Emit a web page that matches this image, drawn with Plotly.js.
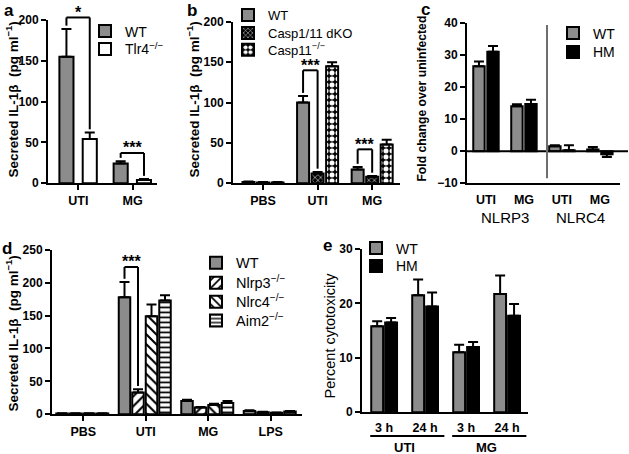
<!DOCTYPE html>
<html><head><meta charset="utf-8">
<script src="https://cdn.plot.ly/plotly-3.0.1.min.js"></script>
<style>html,body{margin:0;padding:0;background:#fff}#chart{width:629px;height:454px}</style>
</head><body><div id="chart"></div>
<script>
// ---------- DATA ----------
// Panel a
const aCats = ['UTI', 'MG'];
const aWT = [155, 24];
const aWTerr = [34, 3];
const aTlr4 = [54, 4];
const aTlr4err = [8, 1];

// Panel b
const bCats = ['PBS', 'UTI', 'MG'];
const bWT = [1.5, 100, 17];
const bWTerr = [0.5, 8, 3];
const bDKO = [1, 12, 8];
const bDKOerr = [0.5, 2, 1];
const bC11 = [1, 145, 48];
const bC11err = [0.5, 5, 6];

// Panel c
const cLabels = ['UTI', 'MG', 'UTI', 'MG'];
const cGroups = ['NLRP3', 'NLRC4'];
const cWT = [26.5, 14, 1.5, 0.5];
const cWTerr = [1.5, 0.6, 0.3, 0.8];
const cHM = [31, 14.7, 0.3, -1];
const cHMerr = [1.8, 1.3, 1.5, 0.8];

// Panel d
const dCats = ['PBS', 'UTI', 'MG', 'LPS'];
const dWT = [1, 178, 20, 5];
const dWTerr = [0.5, 23, 2, 1];
const dNlrp3 = [1, 33, 10, 3];
const dNlrp3err = [0.5, 5, 1, 0.5];
const dNlrc4 = [1, 149, 14, 2];
const dNlrc4err = [0.5, 18, 2, 0.5];
const dAim2 = [1, 173, 17, 4];
const dAim2err = [0.5, 8, 3, 1];

// Panel e
const eLabels = ['3 h', '24 h', '3 h', '24 h'];
const eGroups = ['UTI', 'MG'];
const eWT = [15.8, 21.5, 11, 21.7];
const eWTerr = [0.9, 2.9, 1.4, 3.4];
const eHM = [16.5, 19.4, 12, 17.7];
const eHMerr = [0.8, 2.6, 0.9, 2.2];

// ---------- STYLE / LAYOUT ----------
const F = 'Liberation Sans, Arial, Helvetica, sans-serif';
const GREY = '#8c8c8c';
const W = 629, H = 454;
const px = v => v / W;
const py = v => 1 - v / H;

const traces = [], shapes = [], annotations = [];
const legends = {};
let legendCount = 0;

function makeLegend(xPx, topPx, size) {
  legendCount += 1;
  const id = legendCount === 1 ? 'legend' : 'legend' + legendCount;
  legends[id] = {x: px(xPx), y: py(topPx), xanchor: 'left', yanchor: 'top', bgcolor: 'rgba(0,0,0,0)',
    borderwidth: 0, font: {family: F, size, color: 'black'}, tracegroupgap: 0, traceorder: 'normal',
    itemclick: false, itemdoubleclick: false};
  return id;
}

// leg: {x: legend left px, centers: [item center px...], size, k: center-top offset}
function addBars(xa, ya, leg, series) {
  series.forEach((s, j) => {
    const up = s.y.map((v, i) => v >= 0 ? s.err[i] : 0);
    const dn = s.y.map((v, i) => v < 0 ? s.err[i] : 0);
    const marker = {color: s.color, line: {color: 'black', width: 2}};
    if (s.pattern) marker.pattern = s.pattern;
    const lid = makeLegend(leg.x, leg.centers[j] - leg.k, leg.size);
    traces.push({
      type: 'bar', x: s.y.map((_, i) => i), y: s.y, name: s.name,
      xaxis: xa, yaxis: ya, legend: lid,
      offset: s.offset, width: s.width, marker,
      error_y: {type: 'data', symmetric: false, array: up, arrayminus: dn,
                color: 'black', thickness: 2, width: 5},
      hoverinfo: 'skip'
    });
  });
}

function barCenter(s, i) { return i + s.offset + s.width / 2; }

function bracket(xa, ya, series, cat, from, to, top, label, range) {
  const fr = v => v / range;               // fraction of the y axis (range starts at 0)
  const gap = 0.02 * range;
  const s0 = series[from], s1 = series[to];
  const x0 = barCenter(s0, cat), x1 = barCenter(s1, cat);
  const y0 = s0.y[cat] + s0.err[cat] + gap, y1 = s1.y[cat] + s1.err[cat] + gap;
  const ln = {color: 'black', width: 2};
  const yr = ya + ' domain';
  shapes.push({type: 'line', xref: xa, yref: yr, x0: x0, x1: x0, y0: fr(y0), y1: fr(top), line: ln});
  shapes.push({type: 'line', xref: xa, yref: yr, x0: x0, x1: x1, y0: fr(top), y1: fr(top), line: ln});
  shapes.push({type: 'line', xref: xa, yref: yr, x0: x1, x1: x1, y0: fr(top), y1: fr(y1), line: ln});
  annotations.push({xref: xa, yref: yr, x: (x0 + x1) / 2, y: fr(top), text: label, showarrow: false,
    xanchor: 'center', yanchor: 'middle', yshift: 5,
    font: {family: F, size: 16, weight: 'bold', color: 'black'}});
}

// Panel a
const aSeries = [
  {name: 'WT', y: aWT, err: aWTerr, color: GREY, offset: -0.35, width: 0.26},
  {name: 'Tlr4<sup>−/−</sup>', y: aTlr4, err: aTlr4err, color: 'white', offset: 0.08, width: 0.26}
];
addBars('x', 'y', {x: 85, centers: [30, 48], size: 14, k: 16.5}, aSeries);
bracket('x', 'y', aSeries, 0, 0, 1, 203, '*', 200);
bracket('x', 'y', aSeries, 1, 0, 1, 37, '***', 200);

// Panel b
const bSeries = [
  {name: 'WT', y: bWT, err: bWTerr, color: GREY, offset: -0.376, width: 0.22},
  {name: 'Casp1/11 dKO', y: bDKO, err: bDKOerr, color: 'black', offset: -0.11, width: 0.22,
   pattern: {shape: 'x', fgcolor: 'white', bgcolor: 'black', size: 4, solidity: 0.25}},
  {name: 'Casp11<sup>−/−</sup>', y: bC11, err: bC11err, color: 'black', offset: 0.156, width: 0.22,
   pattern: {shape: '.', fgcolor: 'white', bgcolor: 'black', size: 6, solidity: 0.55}}
];
addBars('x2', 'y2', {x: 228, centers: [12, 30, 47], size: 13, k: 14}, bSeries);
bracket('x2', 'y2', bSeries, 1, 0, 1, 140, '***', 200);
bracket('x2', 'y2', bSeries, 2, 0, 1, 42, '***', 200);

// Panel c
const cSeries = [
  {name: 'WT', y: cWT, err: cWTerr, color: GREY, offset: -0.335, width: 0.3},
  {name: 'HM', y: cHM, err: cHMerr, color: 'black', offset: 0.035, width: 0.3}
];
addBars('x3', 'y3', {x: 553, centers: [32, 51], size: 14, k: 16.5}, cSeries);
shapes.push({type: 'line', xref: 'paper', yref: 'y3', x0: px(467), x1: px(628), y0: 0, y1: 0,
  line: {color: 'black', width: 2}});
shapes.push({type: 'line', xref: 'paper', yref: 'paper', x0: px(547), x1: px(547), y0: py(177), y1: py(23),
  line: {color: '#6e6e6e', width: 2}});
cGroups.forEach((g, k) => annotations.push({xref: 'x3', yref: 'paper', x: 2 * k + 0.5, y: py(216),
  xanchor: 'center', yanchor: 'middle',
  text: g, showarrow: false, font: {family: F, size: 15, color: 'black'}}));

// Panel d
const dSeries = [
  {name: 'WT', y: dWT, err: dWTerr, color: GREY, offset: -0.432, width: 0.184},
  {name: 'Nlrp3<sup>−/−</sup>', y: dNlrp3, err: dNlrp3err, color: 'white', offset: -0.216, width: 0.184,
   pattern: {shape: '/', fgcolor: 'black', bgcolor: 'white', size: 7, solidity: 0.3}},
  {name: 'Nlrc4<sup>−/−</sup>', y: dNlrc4, err: dNlrc4err, color: 'white', offset: 0.0, width: 0.184,
   pattern: {shape: '\\', fgcolor: 'black', bgcolor: 'white', size: 7, solidity: 0.3}},
  {name: 'Aim2<sup>−/−</sup>', y: dAim2, err: dAim2err, color: 'white', offset: 0.216, width: 0.184,
   pattern: {shape: '-', fgcolor: 'black', bgcolor: 'white', size: 5, solidity: 0.35}}
];
addBars('x4', 'y4', {x: 196, centers: [262, 282, 301, 320], size: 14.5, k: 16}, dSeries);
bracket('x4', 'y4', dSeries, 1, 0, 1, 224, '***', 250);

// Panel e
const eSeries = [
  {name: 'WT', y: eWT, err: eWTerr, color: GREY, offset: -0.315, width: 0.29},
  {name: 'HM', y: eHM, err: eHMerr, color: 'black', offset: 0.025, width: 0.29}
];
addBars('x5', 'y5', {x: 356, centers: [248, 266], size: 14, k: 16.5}, eSeries);
eGroups.forEach((g, k) => {
  const a0 = 2 * k - 0.34, a1 = 2 * k + 1 + 0.47;
  shapes.push({type: 'line', xref: 'x5', yref: 'paper', x0: a0, x1: a1, y0: py(436), y1: py(436),
    line: {color: 'black', width: 2}});
  annotations.push({xref: 'x5', yref: 'paper', x: 2 * k + 0.5, y: py(447), text: g, showarrow: false,
    xanchor: 'center', yanchor: 'middle',
    font: {family: F, size: 13, weight: 'bold', color: 'black'}});
});

// Axis titles
function ytitle(xPx, yPx, text, size, weight) {
  annotations.push({xref: 'paper', yref: 'paper', x: px(xPx), y: py(yPx), text, textangle: -90,
    xanchor: 'center', yanchor: 'middle',
    showarrow: false, font: {family: F, size, weight, color: 'black'}});
}
const il1b = 'Secreted IL-1β  (pg ml<sup>−1</sup>)';
ytitle(12, 98, il1b, 13.5, 'bold');
ytitle(193, 98, il1b, 13.5, 'bold');
ytitle(422, 97, 'Fold change over uninfected', 12.2, 'bold');
ytitle(12, 333, il1b, 13.5, 'bold');
ytitle(330, 335, 'Percent cytotoxicity', 14.5, 'normal');

// Panel letters
[['a', 9, 9], ['b', 192, 9], ['c', 425, 8], ['d', 7, 248], ['e', 327, 245]].forEach(([t, x, y]) =>
  annotations.push({xref: 'paper', yref: 'paper', x: px(x), y: py(y), text: t, showarrow: false,
    xanchor: 'center', yanchor: 'middle',
    font: {family: F, size: 17, weight: 'bold', color: 'black'}}));

const axBase = {showline: true, linecolor: 'black', linewidth: 2, ticks: 'outside', ticklen: 5,
  tickwidth: 2, tickcolor: 'black', showgrid: false, zeroline: false, fixedrange: true,
  tickfont: {family: F, size: 12, weight: 'bold', color: 'black'}};
function xAx(d0, d1, range, anchor, labels, standoff) {
  const ax = Object.assign({}, axBase, {domain: [px(d0), px(d1)], range, anchor,
    tickmode: 'array', tickvals: labels.map((_, i) => i), ticktext: labels,
    tickfont: {family: F, size: 12.5, weight: 'bold', color: 'black'}});
  if (standoff !== undefined) { ax.ticks = ''; ax.ticklabelstandoff = standoff; }
  return ax;
}
function yAx(top, bot, range, dtick, anchor) {
  return Object.assign({}, axBase, {domain: [py(bot), py(top)], range, dtick, anchor, tick0: 0});
}

const layout = Object.assign({
  width: W, height: H, margin: {l: 0, r: 0, t: 0, b: 0},
  paper_bgcolor: 'white', plot_bgcolor: 'white', showlegend: true, barmode: 'group',
  font: {family: F, color: 'black'},
  xaxis: xAx(48, 157, [-0.56, 1.45], 'y', aCats),
  yaxis: yAx(18, 182, [0, 200], 50, 'x'),
  xaxis2: xAx(233, 400, [-0.55, 2.51], 'y2', bCats),
  yaxis2: yAx(20, 182, [0, 200], 50, 'x2'),
  xaxis3: xAx(467, 620, [-0.5, 3.53], 'y3', cLabels, 4),
  yaxis3: yAx(21, 182, [-10, 40], 10, 'x3'),
  xaxis4: xAx(52, 302, [-0.5, 3.5], 'y4', dCats),
  yaxis4: yAx(249, 414, [0, 250], 50, 'x4'),
  xaxis5: xAx(362, 528, [-0.54, 3.51], 'y5', eLabels, 3),
  yaxis5: yAx(248, 412, [0, 30], 10, 'x5'),
  shapes, annotations
}, legends);

Plotly.newPlot('chart', traces, layout, {displayModeBar: false, staticPlot: true});
</script>
</body></html>
